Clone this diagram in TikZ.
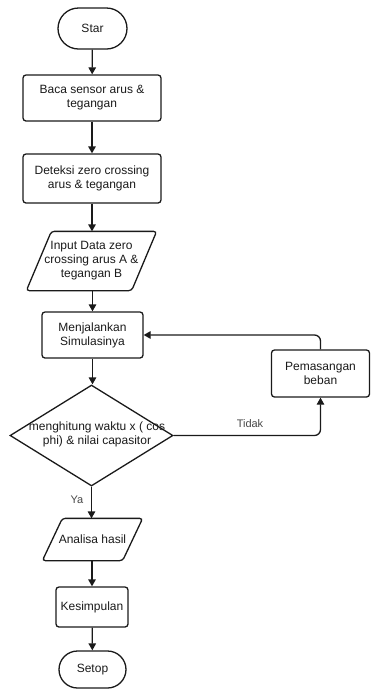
\documentclass[tikz,border=0pt]{standalone}
\usepackage{fontspec}
\setmainfont{Liberation Sans}
\usetikzlibrary{shapes.geometric,shapes.misc,arrows.meta,calc}
\definecolor{ink}{HTML}{1A1A1A}
\begin{document}
\begin{tikzpicture}[x=1pt,y=-1pt,
  line width=1.3pt, draw=ink,
  every node/.style={font=\fontsize{12}{14}\selectfont, text=ink, align=center, inner sep=0pt},
  term/.style={draw, rounded rectangle, minimum width=#1, minimum height=40pt},
  proc/.style={draw, rounded corners=3pt},
  iobox/.style={draw=none},
  conn/.style={-{Triangle[length=7pt,width=7.5pt]}},
  lbl/.style={font=\fontsize{11}{13}\selectfont, text=ink!80}
]
\useasboundingbox (0,0) rectangle (370,689);

\node[term=69pt, minimum height=41pt] (start) at (92.5,28.5) {Star};
\node[proc, minimum width=138pt, minimum height=46pt] (b1) at (92,98) {Baca sensor arus \&\\tegangan};
\node[proc, minimum width=138pt, minimum height=49pt] (b2) at (92,178.5) {Deteksi zero crossing\\arus \& tegangan};
\node[iobox, minimum width=129pt, minimum height=58pt] (p1) at (91.5,261) {Input Data zero\\crossing arus A \&\\tegangan B};
\draw[rounded corners=3pt] ($(p1.north west)+(25,0)$) -- (p1.north east) -- ($(p1.south east)+(-25,0)$) -- (p1.south west) -- cycle;
\node[proc, minimum width=101pt, minimum height=46pt] (b3) at (92.5,335) {Menjalankan\\Simulasinya};
\node[draw, diamond, minimum width=163pt, minimum height=101pt] (d) at (91.5,435.5) {};
\node (dt) at (97,434) {menghitung waktu x ( cos\\phi) \& nilai capasitor};
\node[proc, minimum width=98pt, minimum height=47pt] (pem) at (320.5,373.5) {Pemasangan\\beban};
\node[iobox, minimum width=99pt, minimum height=41pt] (p2) at (92.5,539.5) {Analisa hasil};
\draw[rounded corners=3pt] ($(p2.north west)+(20,0)$) -- (p2.north east) -- ($(p2.south east)+(-20,0)$) -- (p2.south west) -- cycle;
\node[proc, minimum width=72pt, minimum height=40pt] (b4) at (92,607) {Kesimpulan};
\node[term=67pt, minimum height=37pt] (stop) at (92.5,669.5) {Setop};

\node[lbl] (tidak) at (250,424) {Tidak};
\node[lbl] (ya) at (77,500) {Ya};

\draw[conn] (start) -- (b1);
\draw[conn] (b1) -- (b2);
\draw[conn] (b2.south) -- (b2.south |- p1.north);
\draw[conn] (p1.south -| b3.north) -- (b3.north);
\draw[conn] (b3) -- (d.north -| b3.south);
\draw[conn] (d.south) -- (d.south |- p2.north);
\draw[conn] (p2.south -| b4.north) -- (b4.north);
\draw[conn] (b4) -- (stop);
\draw[conn, rounded corners=6pt] (d.east) -| (pem.south);
\draw[conn, rounded corners=6pt] (pem.north) |- (b3.east);
\end{tikzpicture}
\end{document}
